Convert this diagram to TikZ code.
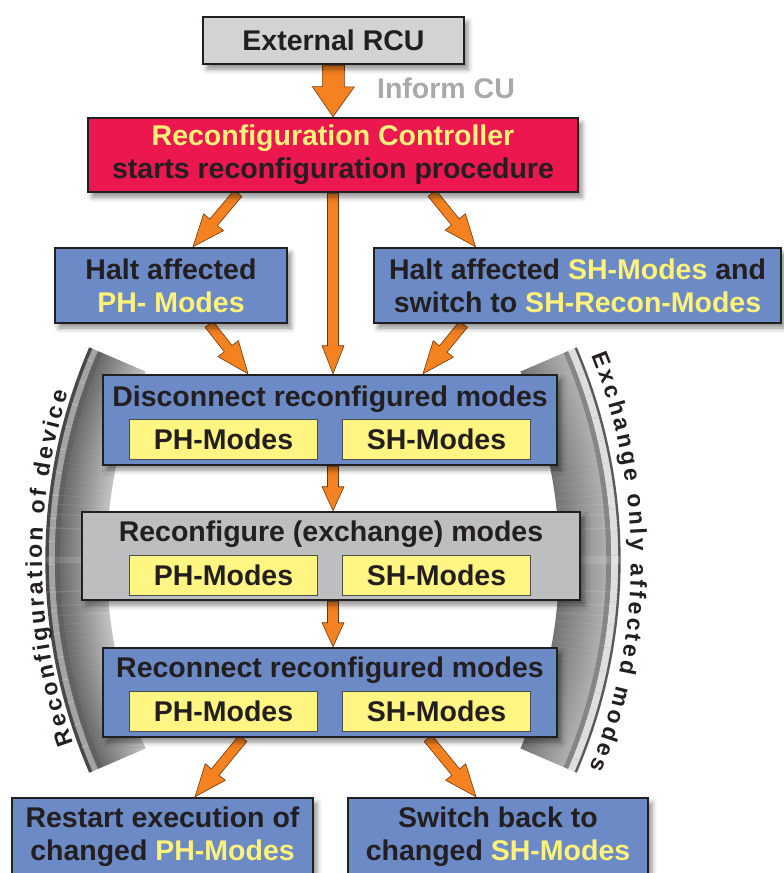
\documentclass[tikz,border=0pt]{standalone}
\usepackage{fontspec}
\setmainfont{Liberation Sans}
\newfontface\bandfont{Liberation Sans Bold}
\usetikzlibrary{positioning, calc, decorations.text, shadows.blur}

\pgfdeclarelayer{background}
\pgfsetlayers{background,main}

\definecolor{boxline}{RGB}{35,31,32}
\definecolor{rcugray}{RGB}{209,211,212}
\definecolor{recgray}{RGB}{188,190,192}
\definecolor{rcured}{RGB}{237,23,79}
\definecolor{modeblue}{RGB}{108,138,198}
\definecolor{modeyellow}{RGB}{255,245,130}
\definecolor{hiyellow}{RGB}{255,242,120}
\definecolor{arroworange}{RGB}{245,130,32}
\definecolor{arrowedge}{RGB}{110,55,15}
\definecolor{informgray}{RGB}{167,169,172}

% yellow mode names inside the boxes
\newcommand{\modename}[1]{\textcolor{hiyellow}{#1}}

% outlined block arrow: start, end, half shaft, half head, head length
\newcommand{\flowarrow}[5]{%
  \coordinate (neck) at ($(#2)!#5!(#1)$);
  \draw[arrowline] ($(#1)!#3!90:(#2)$) -- ($(neck)!#3!90:(#2)$) -- ($(neck)!#4!90:(#2)$)
    -- (#2) -- ($(neck)!#4!-90:(#2)$) -- ($(neck)!#3!-90:(#2)$) -- ($(#1)!#3!-90:(#2)$) -- cycle;}

\tikzset{
  every node/.style={font=\fontsize{28.5}{33}\selectfont\bfseries, text=boxline},
  stepbox/.style={draw=boxline, line width=2.5pt, align=center, inner sep=0pt,
    blur shadow={shadow xshift=4pt, shadow yshift=-5pt, shadow blur radius=5pt, shadow opacity=45}},
  modebox/.style={draw=black!70, line width=1.2pt, fill=modeyellow, inner sep=0pt,
    minimum width=188pt, minimum height=40pt},
  arrowline/.style={fill=arroworange, draw=arrowedge, line width=0.6pt, line join=miter},
  arctext/.style={decorate, decoration={text along path, text color=boxline, text align={fit to path},
    text={|\bandfont\fontsize{23}{23}\selectfont|#1}}},
}

\begin{document}
\begin{tikzpicture}[x=1pt, y=1pt]
    \useasboundingbox (0,0) rectangle (784,-873);

    % Curved bands left and right
    \coordinate (leftc) at (583,-560);
    \coordinate (rightc) at (83,-560);
    \foreach \rad in {477,...,537} {
        \pgfmathtruncatemacro\tone{\rad>534 ? 72 : (\rad>528 ? 36 : (\rad>523 ? 62 : 24+(\rad-477)*0.75))}
        \draw[line width=1.4pt, black!\tone] (leftc) ++(156.7:\rad) arc[start angle=156.7, end angle=203.3, radius=\rad];
    }
    \foreach \rad in {477,...,537} {
        \pgfmathtruncatemacro\tone{\rad>535 ? 65 : (\rad>528 ? 13 : (\rad>523 ? 48 : 55-(\rad-477)*0.5))}
        \draw[line width=1.4pt, black!\tone] (rightc) ++(-23.3:\rad) arc[start angle=-23.3, end angle=23.3, radius=\rad];
    }
    % ticks on the ridges
    \foreach \a in {158,160.5,...,202} {
        \draw[white, opacity=.5, line width=.4pt] (leftc) ++(\a:529) -- ++(\a:6);
    }
    \foreach \a in {-22,-19.5,...,22} {
        \draw[black!30, opacity=.6, line width=.4pt] (rightc) ++(\a:529) -- ++(\a:7);
    }

    % Texts along the bands
    \path[arctext={Reconfiguration of device}] (leftc) ++(199.8:541) arc[start angle=199.8, end angle=162, radius=541];
    \path[arctext={Exchange only affected modes}] (rightc) ++(21.9:548) arc[start angle=21.9, end angle=-22.3, radius=548];

    % Top
    \node[stepbox, fill=rcugray, minimum width=261pt, minimum height=47pt] (rcu) at (333.5,-40.5) {External RCU};
    \node[text=informgray] (inform) at (446,-88) {Inform CU};
    \node[stepbox, fill=rcured, minimum width=490pt, minimum height=74pt] (rc) at (333,-155)
        {\modename{Reconfiguration Controller}\\starts reconfiguration procedure};

    % Halt boxes
    \node[stepbox, fill=modeblue, minimum width=232pt, minimum height=75pt] (haltph) at (171,-285.5)
        {Halt affected\\\modename{PH- Modes}};
    \node[stepbox, fill=modeblue, minimum width=407pt, minimum height=75pt] (haltsh) at (577.5,-285.5)
        {Halt affected \modename{SH-Modes} and\\switch to \modename{SH-Recon-Modes}};

    % Disconnect
    \node[stepbox, fill=modeblue, minimum width=454pt, minimum height=90pt] (disc) at (330,-420) {};
    \node (disc-title) at ([yshift=-25pt]disc.north) {Disconnect reconfigured modes};
    \node[modebox] (disc-ph) at ([xshift=-106.5pt, yshift=27pt]disc.south) {PH-Modes};
    \node[modebox] (disc-sh) at ([xshift=106.5pt, yshift=27pt]disc.south) {SH-Modes};

    % Reconfigure
    \node[stepbox, fill=recgray, minimum width=498pt, minimum height=88pt] (reconf) at (331,-556) {};
    \node (reconf-title) at ([yshift=-23pt]reconf.north) {Reconfigure (exchange) modes};
    \node[modebox] (reconf-ph) at ([xshift=-107.5pt, yshift=25.5pt]reconf.south) {PH-Modes};
    \node[modebox] (reconf-sh) at ([xshift=105.5pt, yshift=25.5pt]reconf.south) {SH-Modes};

    % Reconnect
    \node[stepbox, fill=modeblue, minimum width=454pt, minimum height=89pt] (reconn) at (330,-692.5) {};
    \node (reconn-title) at ([yshift=-23pt]reconn.north) {Reconnect reconfigured modes};
    \node[modebox] (reconn-ph) at ([xshift=-106.5pt, yshift=26.5pt]reconn.south) {PH-Modes};
    \node[modebox] (reconn-sh) at ([xshift=106.5pt, yshift=26.5pt]reconn.south) {SH-Modes};

    % Bottom
    \node[stepbox, fill=modeblue, minimum width=301pt, minimum height=77pt] (restart) at (162.5,-836.5)
        {Restart execution of\\changed \modename{PH-Modes}};
    \node[stepbox, fill=modeblue, minimum width=300pt, minimum height=77pt] (switch) at (498,-836.5)
        {Switch back to\\changed \modename{SH-Modes}};

    % Arrow ends
    \coordinate (rc-l) at ([xshift=-95pt]rc.south);
    \coordinate (rc-r) at ([xshift=99pt]rc.south);
    \coordinate (haltph-in) at ([xshift=22pt]haltph.north);
    \coordinate (haltsh-in) at ([xshift=-102pt]haltsh.north);
    \coordinate (haltph-out) at ([xshift=38pt]haltph.south);
    \coordinate (haltsh-out) at ([xshift=-114pt]haltsh.south);
    \coordinate (disc-l) at ([xshift=-82pt]disc.north);
    \coordinate (disc-r) at ([xshift=93pt]disc.north);
    \coordinate (disc-in) at (rc.south |- disc.north);
    \coordinate (disc-out) at (rc.south |- disc.south);
    \coordinate (reconf-in) at (rc.south |- reconf.north);
    \coordinate (reconf-out) at (rc.south |- reconf.south);
    \coordinate (reconn-in) at (rc.south |- reconn.north);
    \coordinate (reconn-l) at ([xshift=-87pt]reconn.south);
    \coordinate (reconn-r) at ([xshift=98pt]reconn.south);
    \coordinate (restart-in) at ([xshift=32.5pt]restart.north);
    \coordinate (switch-in) at ([xshift=-22pt]switch.north);

    % Arrows
    \begin{pgfonlayer}{background}
        \flowarrow{rcu.south}{rc.north}{11pt}{21pt}{30pt}
        \flowarrow{rc-l}{haltph-in}{5pt}{13pt}{32pt}
        \flowarrow{rc-r}{haltsh-in}{5pt}{13pt}{32pt}
        \flowarrow{rc.south}{disc-in}{5.5pt}{11pt}{28pt}
        \flowarrow{haltph-out}{disc-l}{5pt}{13pt}{32pt}
        \flowarrow{haltsh-out}{disc-r}{5pt}{13pt}{32pt}
        \flowarrow{disc-out}{reconf-in}{5.5pt}{11pt}{24pt}
        \flowarrow{reconf-out}{reconn-in}{5.5pt}{11pt}{24pt}
        \flowarrow{reconn-l}{restart-in}{5pt}{13pt}{32pt}
        \flowarrow{reconn-r}{switch-in}{5pt}{13pt}{32pt}
    \end{pgfonlayer}
\end{tikzpicture}
\end{document}
